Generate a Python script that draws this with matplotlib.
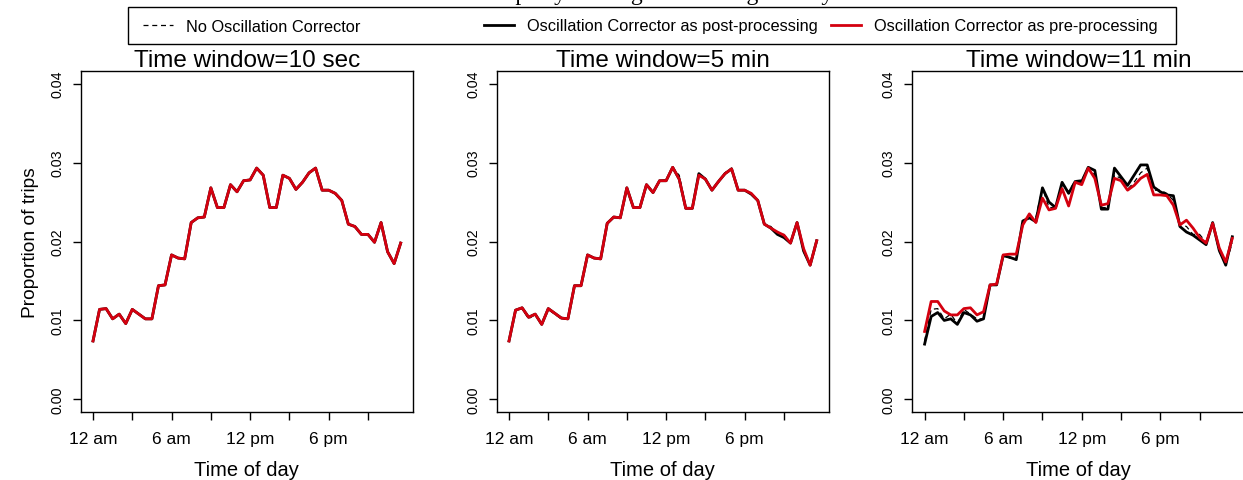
import numpy as np
import matplotlib
matplotlib.use("Agg")
import matplotlib.pyplot as plt
from matplotlib.lines import Line2D
from matplotlib.patches import Rectangle

RED, BLACK = "#d4000f", "black"
SANS = ["Liberation Sans", "DejaVu Sans"]

plt.rcParams.update({"font.family": SANS, "axes.linewidth": 1.0})

# half-hourly time of day (hours)
hours = np.arange(0, 24, 0.5)

no_corr = [0.0074, 0.0114, 0.0115, 0.0102, 0.0108, 0.0096, 0.0114, 0.0108,
           0.0102, 0.0102, 0.0144, 0.0145, 0.0183, 0.0179, 0.0178, 0.0224,
           0.0230, 0.0231, 0.0268, 0.0243, 0.0243, 0.0272, 0.0263, 0.0277,
           0.0278, 0.0293, 0.0284, 0.0243, 0.0243, 0.0284, 0.0280, 0.0266,
           0.0275, 0.0287, 0.0293, 0.0265, 0.0265, 0.0261, 0.0252, 0.0222,
           0.0219, 0.0209, 0.0209, 0.0199, 0.0224, 0.0187, 0.0172, 0.0198]

# 10 sec: both correctors identical to the raw series
post_10s = list(no_corr)
pre_10s = list(no_corr)

post_5m = [0.0074, 0.0113, 0.0116, 0.0104, 0.0108, 0.0095, 0.0115, 0.0109,
           0.0103, 0.0102, 0.0144, 0.0144, 0.0183, 0.0179, 0.0178, 0.0223,
           0.0231, 0.0230, 0.0268, 0.0243, 0.0243, 0.0272, 0.0262, 0.0277,
           0.0277, 0.0294, 0.0279, 0.0242, 0.0242, 0.0286, 0.0279, 0.0265,
           0.0276, 0.0286, 0.0292, 0.0265, 0.0265, 0.0260, 0.0252, 0.0222,
           0.0217, 0.0209, 0.0205, 0.0198, 0.0224, 0.0188, 0.0170, 0.0201]
pre_5m = [0.0074, 0.0113, 0.0116, 0.0104, 0.0108, 0.0095, 0.0115, 0.0109,
          0.0103, 0.0102, 0.0144, 0.0144, 0.0183, 0.0179, 0.0178, 0.0223,
          0.0231, 0.0230, 0.0268, 0.0243, 0.0243, 0.0272, 0.0262, 0.0277,
          0.0277, 0.0294, 0.0279, 0.0242, 0.0242, 0.0284, 0.0279, 0.0265,
          0.0276, 0.0286, 0.0292, 0.0265, 0.0265, 0.0261, 0.0252, 0.0222,
          0.0217, 0.0212, 0.0208, 0.0198, 0.0224, 0.0191, 0.0170, 0.0201]

post_11m = [0.0070, 0.0105, 0.0110, 0.0100, 0.0102, 0.0095, 0.0110, 0.0107,
            0.0099, 0.0102, 0.0145, 0.0145, 0.0182, 0.0180, 0.0177, 0.0226,
            0.0230, 0.0225, 0.0268, 0.0250, 0.0243, 0.0275, 0.0261, 0.0276,
            0.0276, 0.0294, 0.0290, 0.0241, 0.0241, 0.0293, 0.0282, 0.0271,
            0.0284, 0.0297, 0.0297, 0.0269, 0.0263, 0.0259, 0.0258, 0.0219,
            0.0212, 0.0208, 0.0202, 0.0196, 0.0224, 0.0189, 0.0170, 0.0206]
pre_11m = [0.0086, 0.0124, 0.0124, 0.0112, 0.0107, 0.0107, 0.0115, 0.0116,
           0.0107, 0.0111, 0.0145, 0.0146, 0.0183, 0.0184, 0.0184, 0.0221,
           0.0235, 0.0224, 0.0255, 0.0240, 0.0242, 0.0267, 0.0245, 0.0275,
           0.0272, 0.0293, 0.0280, 0.0246, 0.0248, 0.0280, 0.0277, 0.0265,
           0.0271, 0.0280, 0.0285, 0.0259, 0.0259, 0.0258, 0.0246, 0.0221,
           0.0227, 0.0217, 0.0205, 0.0198, 0.0223, 0.0192, 0.0174, 0.0204]

windows = ["10 sec", "5 min", "11 min"]
post = [post_10s, post_5m, post_11m]
pre = [pre_10s, pre_5m, pre_11m]

xticks = [0, 3, 6, 9, 12, 15, 18, 21]
xticklabels = ["12 am", "", "6 am", "", "12 pm", "", "6 pm", ""]
yticks = [0.00, 0.01, 0.02, 0.03, 0.04]

W, H = 1243, 481
fig = plt.figure(figsize=(W / 100, H / 100), dpi=100)

lefts = [80.7, 496.7, 912.3]
for i, x0 in enumerate(lefts):
    ax = fig.add_axes([x0 / W, 1 - 413 / H, 332.3 / W, 341 / H])
    ax.plot(hours, no_corr, color=BLACK, lw=0.9, ls=(0, (4, 3)))
    ax.plot(hours, post[i], color=BLACK, lw=2.0)
    ax.plot(hours, pre[i], color=RED, lw=2.0)
    # R-style 4% padding
    ax.set_xlim(-0.94, 24.44)
    ax.set_ylim(-0.0016, 0.0416)
    ax.set_xticks(xticks)
    ax.set_xticklabels(xticklabels, fontsize=12.5)
    ax.set_yticks(yticks)
    ax.set_yticklabels([f"{v:.2f}" for v in yticks], fontsize=10.3, rotation=90, va="center")
    ax.tick_params(axis="both", length=6, width=1, direction="out")
    ax.tick_params(axis="x", pad=8)
    ax.tick_params(axis="y", pad=6)
    ax.set_title(f"Time window={windows[i]}", fontsize=17.5, pad=3)
    ax.set_xlabel("Time of day", fontsize=14.5, labelpad=10)
    if i == 0:
        ax.set_ylabel("Proportion of trips", fontsize=13.8, labelpad=8)

# legend: R-style horizontal legend with equal-width columns inside one box
handles = [Line2D([], [], color=BLACK, lw=0.9, ls=(0, (4, 3))),
           Line2D([], [], color=BLACK, lw=2.0),
           Line2D([], [], color=RED, lw=2.0)]
labels = ["No Oscillation Corrector", "Oscillation Corrector as post-processing",
          "Oscillation Corrector as pre-processing"]
col_x = [143, 484, 831]
for h, lab, cx in zip(handles, labels, col_x):
    fig.legend([h], [lab], loc="center left", bbox_to_anchor=(cx / W, 1 - 27 / H),
               fontsize=11.8, frameon=False, borderpad=0, borderaxespad=0,
               handlelength=1.8, handletextpad=0.8)
fig.patches.append(Rectangle((128 / W, 1 - 45 / H), (1176 - 128) / W, 37 / H,
                             transform=fig.transFigure, fill=False,
                             edgecolor="black", linewidth=1.0))

# main title sits mostly above the canvas (clipped as in the original)
fig.text(0.5, 1.0, "Share of trips by starting time during the day", ha="center",
         va="baseline", fontsize=17, family="Liberation Serif")

fig.savefig("out.png", dpi=100)
